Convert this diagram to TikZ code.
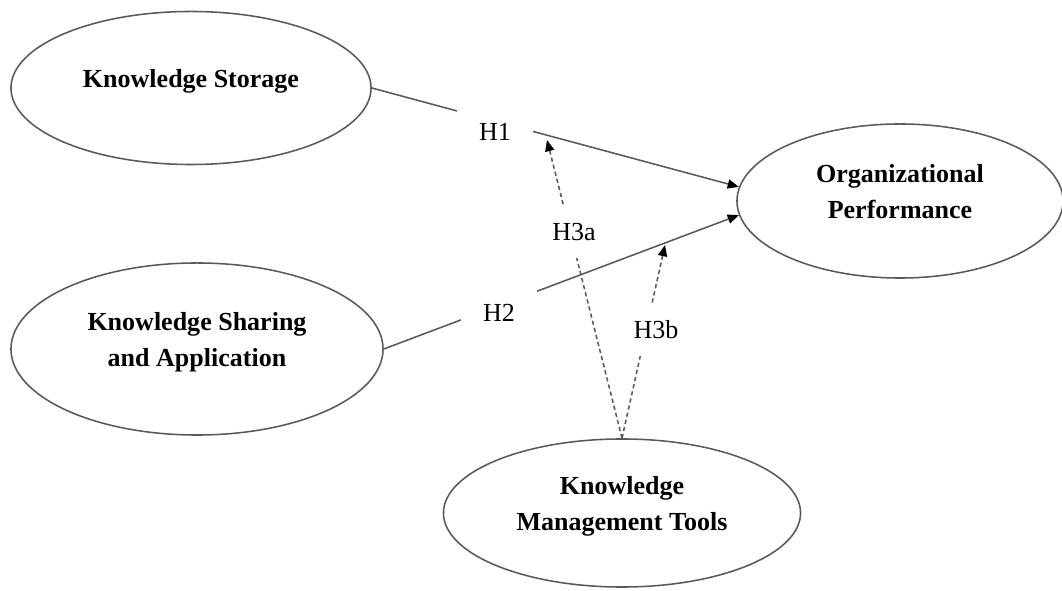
\documentclass[tikz,border=0pt]{standalone}
\usepackage{fontspec}
\setmainfont{Liberation Serif}
\usetikzlibrary{shapes.geometric,arrows.meta}

\begin{document}
\begin{tikzpicture}[x=0.025cm, y=0.025cm,
    construct/.style={ellipse, draw=black!65, line width=1.1pt, inner sep=0pt,
      align=center, text depth=13pt,
      font=\fontsize{18.5}{25.6}\selectfont\bfseries},
    hyp/.style={fill=white, inner xsep=16pt, inner ysep=10pt,
      font=\fontsize{18.5}{22}\selectfont},
    modhyp/.style={hyp, inner xsep=1pt, inner ysep=12pt},
    link/.style={draw=black!65, line width=1.1pt,
      -{Triangle[length=8pt,width=6.5pt,color=black]}},
    modlink/.style={link, dash pattern=on 3pt off 2.2pt}]
  \useasboundingbox (0,0) rectangle (1062,590);
  % constructs
  \node[construct, minimum width=9cm, minimum height=3.825cm] (ks) at (191,502)
    {Knowledge Storage};
  \node[construct, minimum width=9.3cm, minimum height=4.3cm] (ksa) at (197,241)
    {Knowledge Sharing\\and Application};
  \node[construct, minimum width=8.15cm, minimum height=3.85cm] (op) at (900,389)
    {Organizational\\Performance};
  \node[construct, minimum width=8.925cm, minimum height=3.7cm] (kmt) at (622,77)
    {Knowledge\\Management Tools};
  \coordinate (m1) at (547,450);
  \coordinate (m2) at (665,345);
  % paths
  \draw[link] (ks.east) -- (op.175);
  \draw[link] (ksa.east) -- (op.185);
  \draw[modlink] (kmt.north) -- (m1);
  \draw[modlink] (kmt.north) -- (m2);
  % hypotheses
  \node[hyp] (h1) at (495,458) {H1};
  \node[hyp] (h2) at (499,277) {H2};
  \node[modhyp] (h3a) at (574,358) {H3a};
  \node[modhyp] (h3b) at (656,260) {H3b};
\end{tikzpicture}
\end{document}
